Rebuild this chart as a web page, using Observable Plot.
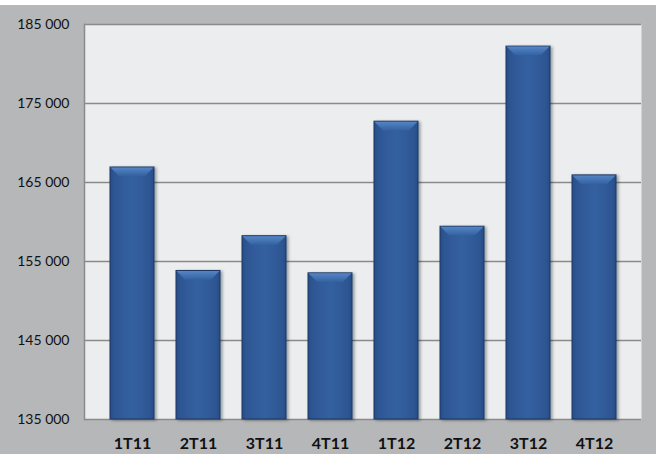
<!DOCTYPE html>
<html>
<head>
<meta charset="utf-8">
<script src="https://cdn.jsdelivr.net/npm/d3@7"></script>
<script src="https://cdn.jsdelivr.net/npm/@observablehq/plot@0.6"></script>
<style>
  html, body { margin: 0; padding: 0; background: #ffffff; }
  #chart { padding-top: 5px; }
  #chart svg { display: block; }
</style>
</head>
<body>
<div id="chart"></div>
<script>
const quarters = ["1T11", "2T11", "3T11", "4T11", "1T12", "2T12", "3T12", "4T12"];
const values = [166900, 153800, 158200, 153500, 172700, 159400, 182200, 165900];
const yTicks = [135000, 145000, 155000, 165000, 175000, 185000];
const yDomain = [135000, 185000];

const data = quarters.map((q, i) => ({ q, v: values[i] }));
const NS = "http://www.w3.org/2000/svg";
const fmt = d => d3.format(",")(d).replace(/,/g, " ");

function el(name, attrs) {
  const e = document.createElementNS(NS, name);
  for (const k in attrs) e.setAttribute(k, attrs[k]);
  return e;
}

function barRender(index, scales, vals, dims, context, next) {
  const g = next(index, scales, vals, dims, context);
  const defs = el("defs", {});
  const grad = el("linearGradient", { id: "barGrad", x1: "0", y1: "0", x2: "1", y2: "0" });
  [["0", "#294e88"], ["0.12", "#2e5794"], ["0.5", "#3460a0"], ["0.88", "#2e5794"], ["1", "#294e88"]]
    .forEach(([o, c]) => grad.appendChild(el("stop", { offset: o, "stop-color": c })));
  const bev = el("linearGradient", { id: "bevGrad", x1: "0", y1: "0", x2: "0", y2: "1" });
  [["0", "#5585c4"], ["1", "#3462a2"]]
    .forEach(([o, c]) => bev.appendChild(el("stop", { offset: o, "stop-color": c })));
  const filt = el("filter", { id: "shadow", x: "-20%", y: "-5%", width: "140%", height: "110%" });
  filt.appendChild(el("feDropShadow", { dx: "2", dy: "1", stdDeviation: "1.5", "flood-color": "#000", "flood-opacity": "0.35" }));
  defs.appendChild(grad); defs.appendChild(bev); defs.appendChild(filt);
  g.insertBefore(defs, g.firstChild);
  g.setAttribute("filter", "url(#shadow)");
  const rects = Array.from(g.querySelectorAll("rect"));
  for (const r of rects) {
    const x = +r.getAttribute("x"), y = +r.getAttribute("y"),
          w = +r.getAttribute("width");
    const b = 9;
    const pts = [[x + 0.5, y + 0.5], [x + w - 0.5, y + 0.5], [x + w - b, y + b], [x + b, y + b]]
      .map(p => p.join(",")).join(" ");
    g.appendChild(el("polygon", { points: pts, fill: "url(#bevGrad)", stroke: "none" }));
  }
  return g;
}

const chart = Plot.plot({
  width: 656,
  height: 449,
  marginLeft: 84,
  marginTop: 19,
  marginBottom: 35,
  marginRight: 15,
  style: { background: "#b5b7b9", fontFamily: "Lato, 'Open Sans', sans-serif", color: "#111" },
  x: { domain: quarters, padding: 0.34, label: null },
  y: { domain: yDomain, ticks: yTicks, label: null },
  marks: [
    Plot.frame({ fill: "#ecedee", stroke: "none" }),
    Plot.gridY(yTicks, { stroke: "#8a8a8a", strokeOpacity: 1, strokeWidth: 1.5 }),
    Plot.frame({ anchor: "left", stroke: "#8a8a8a", strokeWidth: 1.5 }),
    Plot.barY(data, {
      x: "q", y1: yDomain[0], y2: "v",
      fill: "url(#barGrad)", stroke: "#1c3763", strokeWidth: 1,
      render: barRender
    }),
    Plot.axisX({ tickSize: 0, tickPadding: 18, fontSize: 16, fontWeight: "bold", label: null }),
    Plot.axisY(yTicks, { tickSize: 0, tickPadding: 15, fontSize: 14, tickFormat: fmt, label: null })
  ]
});

document.getElementById("chart").appendChild(chart);
chart.querySelectorAll('g[aria-label="x-axis tick label"]').forEach(g => {
  g.setAttribute("font-size", "16"); g.setAttribute("font-weight", "bold");
});
chart.querySelectorAll('g[aria-label="y-axis tick label"]').forEach(g => {
  g.setAttribute("font-size", "14");
});
</script>
</body>
</html>
